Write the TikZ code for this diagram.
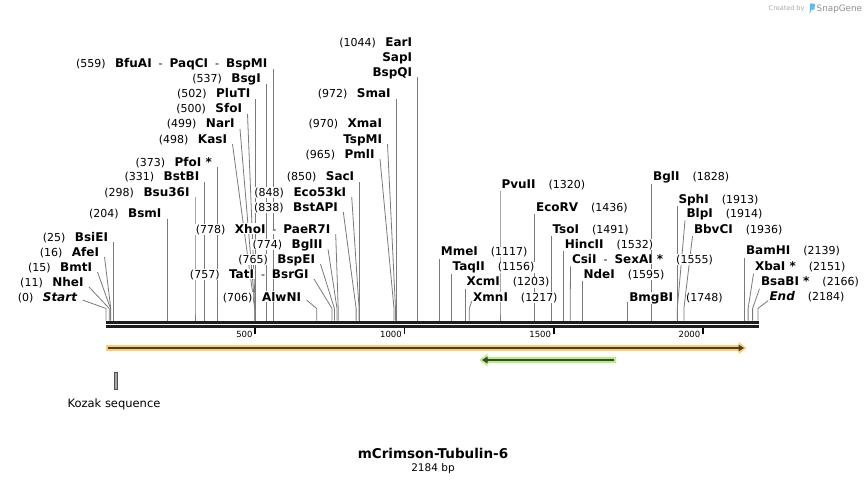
\documentclass[tikz,border=0pt]{standalone}
\usepackage{fontspec}
\setmainfont{DejaVu Sans}
\usetikzlibrary{calc,arrows.meta}
\pgfdeclarelayer{bg}
\pgfdeclarelayer{paper}
\pgfsetlayers{paper,bg,main}
\definecolor{siteline}{HTML}{7A7A7A}
\definecolor{seqcol}{HTML}{1E1E1E}
\definecolor{orhalo}{HTML}{FDCB70}
\definecolor{orcore}{HTML}{4A3F2E}
\definecolor{grhalo}{HTML}{B3F07C}
\definecolor{grcore}{HTML}{3B4634}
\definecolor{kozfill}{HTML}{A6A6A6}
\definecolor{kozdraw}{HTML}{505050}
\definecolor{sgblue}{HTML}{5DB9EE}
\definecolor{sggrey}{HTML}{A8A8A8}
\setlength\fboxsep{0.5pt}
\newcommand\sitenumfont{\fontsize{11}{12}\selectfont}
\newcommand\sitenamefont{\fontsize{12}{13}\selectfont\bfseries}
\newcommand\snum[1]{\colorbox{white}{\sitenumfont(#1)}}
\newcommand\sname[1]{\colorbox{white}{\sitenamefont #1}}
\newcommand\sdash{\hspace{6pt}\colorbox{white}{\sitenumfont-}\hspace{6pt}}
\newcommand\lgap{\hspace{8.5pt}}
\newcommand\rgap{\hspace{12pt}}
% left-hand label: id, site x, label east x, label centre y, text, line start dy
\newcommand\lsite[6]{%
  \coordinate (s#1) at (#2,320.5);
  \node[lab,anchor=base east] (#1) at (#3,#4+4) {#5};
  \begin{pgfonlayer}{bg}
    \draw[site] ($(#1.base east)+(5,#6)$) -- ($(s#1)+(0,-12)$) -- (s#1);
  \end{pgfonlayer}}
% right-hand label: id, site x, label west x, label centre y, text, line start dy
\newcommand\rsite[6]{%
  \coordinate (s#1) at (#2,320.5);
  \node[lab,anchor=base west] (#1) at (#3,#4+4) {#5};
  \begin{pgfonlayer}{bg}
    \draw[site] ($(#1.base west)+(-1,#6)$) -- ($(s#1)+(0,-12)$) -- (s#1);
  \end{pgfonlayer}}
\begin{document}
\begin{tikzpicture}[x=1pt,y=-1pt,
  lab/.style={inner sep=0pt,outer sep=0pt,text=black},
  site/.style={draw=siteline,line width=0.8pt},
  seqline/.style={draw=seqcol,line width=2.8pt},
  tickmark/.style={draw=black,line width=1.6pt},
  ticklab/.style={inner sep=0pt,font=\fontsize{8.5}{10}\selectfont},
  kozak/.style={draw=kozdraw,fill=kozfill,line width=0.8pt,minimum width=3.2pt,minimum height=16.6pt,inner sep=0pt}]
\useasboundingbox (0,0) rectangle (866,484);
\begin{pgfonlayer}{paper}
\fill[white] (0,0) rectangle (866,484);
\end{pgfonlayer}

% SnapGene credit
\node[inner sep=0pt,anchor=base west,text=sggrey,font=\fontsize{6.5}{7}\selectfont] (credit) at (768.5,11) {Created by};
\fill[sgblue] (809.5,14) -- (810.3,3.3) -- (815,4) -- (814.4,9.6) -- (811.6,9.8) -- cycle;
\node[inner sep=0pt,anchor=base west,text=sggrey!85!black,font=\fontsize{8.8}{9}\selectfont] (snapgene) at (816.5,11.5) {SnapGene};

% sequence line
\coordinate (seqL) at (105.5,0);
\coordinate (seqR) at (759,0);
\draw[seqline] (seqL|-0,322.3) -- (seqR|-0,322.3);
\draw[seqline] (seqL|-0,326.4) -- (seqR|-0,326.4);

% ticks
\foreach \bp/\tx in {500/255.25,1000/404.5,1500/553.75,2000/703} {
  \coordinate (t\bp) at (\tx,327.8);
  \draw[tickmark] (t\bp) -- ++(0,6.4);
  \node[ticklab,anchor=base east] (tl\bp) at ($(t\bp)+(-2.5,10)$) {\bp};
}

% ---- left-hand sites
\lsite{Start}{106.0}{77.5}{297}{\snum{0}\lgap\sname{\itshape Start}}{-1}
\lsite{NheI}{109.3}{84}{282}{\snum{11}\lgap\sname{NheI}}{1}
\lsite{BmtI}{110.5}{92.5}{267}{\snum{15}\lgap\sname{BmtI}}{1}
\lsite{AfeI}{110.8}{99.5}{252}{\snum{16}\lgap\sname{AfeI}}{1}
\lsite{BsiEI}{113.5}{108.5}{237}{\snum{25}\lgap\sname{BsiEI}}{1}
\lsite{BsmI}{166.9}{161.9}{213.5}{\snum{204}\lgap\sname{BsmI}}{1}
\lsite{Bsu36I}{195.0}{190.0}{192.3}{\snum{298}\lgap\sname{Bsu36I}}{1}
\lsite{BstBI}{204.8}{199.8}{176.7}{\snum{331}\lgap\sname{BstBI}}{1}
\lsite{PfoI}{217.3}{212.3}{162}{\snum{373}\lgap\sname{PfoI *}}{1}
\lsite{KasI}{254.7}{227.5}{139}{\snum{498}\lgap\sname{KasI}}{1}
\lsite{NarI}{255.0}{235}{124}{\snum{499}\lgap\sname{NarI}}{1}
\lsite{SfoI}{255.3}{242.5}{109}{\snum{500}\lgap\sname{SfoI}}{1}
\lsite{PluTI}{255.8}{250.8}{94}{\snum{502}\lgap\sname{PluTI}}{1}
\lsite{BsgI}{266.3}{261.3}{79}{\snum{537}\lgap\sname{BsgI}}{1}
\lsite{BfuAI}{272.9}{267.9}{64}{\snum{559}\lgap\sname{BfuAI}\sdash\sname{PaqCI}\sdash\sname{BspMI}}{1}

% ---- middle sites
\lsite{AlwNI}{316.7}{301.5}{297}{\snum{706}\lgap\sname{AlwNI}}{-1}
\lsite{TatI}{332.0}{309}{274}{\snum{757}\lgap\sname{TatI}\sdash\sname{BsrGI}}{1}
\lsite{BspEI}{334.4}{315.5}{259}{\snum{765}\lgap\sname{BspEI}}{1}
\lsite{BglII}{337.0}{323}{244}{\snum{774}\lgap\sname{BglII}}{1}
\lsite{XhoI}{338.2}{330.7}{229}{\snum{778}\lgap\sname{XhoI}\sdash\sname{PaeR7I}}{1}
\lsite{BstAPI}{356.1}{338.3}{207}{\snum{838}\lgap\sname{BstAPI}}{1}
\lsite{Eco53kI}{359.1}{346.7}{192}{\snum{848}\lgap\sname{Eco53kI}}{1}
\lsite{SacI}{359.7}{354.7}{176.7}{\snum{850}\lgap\sname{SacI}}{1}
\lsite{PmlI}{394.0}{375}{154}{\snum{965}\lgap\sname{PmlI}}{1}
\node[lab,anchor=base east] (XmaI) at (382.5,128) {\snum{970}\lgap\sname{XmaI}};
\lsite{TspMI}{395.5}{382.5}{139}{\sname{TspMI}}{1}
\lsite{SmaI}{396.1}{391.1}{94}{\snum{972}\lgap\sname{SmaI}}{1}
\node[lab,anchor=base east] (EarI) at (412.6,46.3) {\snum{1044}\lgap\sname{EarI}};
\node[lab,anchor=base east] (SapI) at (412.6,61.3) {\sname{SapI}};
\lsite{BspQI}{417.6}{412.6}{72.3}{\sname{BspQI}}{1}

% ---- right-hand sites
\rsite{MmeI}{439.4}{440.4}{251.5}{\sname{MmeI}\rgap\snum{1117}}{3}
\rsite{TaqII}{451.1}{452.1}{266.7}{\sname{TaqII}\rgap\snum{1156}}{3}
\rsite{XcmI}{465.1}{466.1}{281.7}{\sname{XcmI}\rgap\snum{1203}}{3}
\rsite{XmnI}{469.3}{472.7}{297.3}{\sname{XmnI}\rgap\snum{1217}}{0}
\rsite{PvuII}{500.0}{501}{184}{\sname{PvuII}\rgap\snum{1320}}{3}
\rsite{EcoRV}{534.6}{535.6}{207.3}{\sname{EcoRV}\rgap\snum{1436}}{3}
\rsite{TsoI}{551.1}{552.1}{229}{\sname{TsoI}\rgap\snum{1491}}{3}
\rsite{HincII}{563.3}{564.3}{244}{\sname{HincII}\rgap\snum{1532}}{3}
\rsite{CsiI}{570.2}{571.5}{259.3}{\sname{CsiI}\sdash\sname{SexAI *}\rgap\snum{1555}}{3}
\rsite{NdeI}{582.1}{583.1}{274}{\sname{NdeI}\rgap\snum{1595}}{3}
\rsite{BmgBI}{627.8}{628.8}{297.3}{\sname{BmgBI}\rgap\snum{1748}}{1}
\rsite{BglI}{651.7}{652.7}{176.7}{\sname{BglI}\rgap\snum{1828}}{3}
\rsite{SphI}{677.0}{678}{199}{\sname{SphI}\rgap\snum{1913}}{3}
\rsite{BlpI}{677.3}{686}{213.3}{\sname{BlpI}\rgap\snum{1914}}{3}
\rsite{BbvCI}{683.9}{693.5}{229}{\sname{BbvCI}\rgap\snum{1936}}{3}
\rsite{BamHI}{744.5}{745.5}{250.7}{\sname{BamHI}\rgap\snum{2139}}{3}
\rsite{XbaI}{748.1}{754.5}{266.7}{\sname{XbaI *}\rgap\snum{2151}}{3}
\rsite{BsaBI}{752.6}{760.5}{281.7}{\sname{BsaBI *}\rgap\snum{2166}}{3}
\rsite{End}{757.9}{769}{296.7}{\sname{\itshape End}\rgap\snum{2184}}{0}

% ---- features
\coordinate (orS) at (106,348);
\coordinate (orE) at (744,348);
\draw[line width=6.5pt,draw=orhalo,-{Triangle[length=8pt,width=12pt,fill=orhalo]}] (orS) -- ($(orE)+(2.5,0)$);
\draw[line width=2.2pt,draw=orcore,-{Triangle[length=5.5pt,width=6.5pt,fill=orcore]}] ($(orS)+(2,0)$) -- (orE);

\coordinate (grS) at (616,360);
\coordinate (grE) at (482,360);
\draw[line width=6.5pt,draw=grhalo,-{Triangle[length=8pt,width=12pt,fill=grhalo]}] (grS) -- ($(grE)+(-2.5,0)$);
\draw[line width=2.2pt,draw=grcore,-{Triangle[length=5.5pt,width=6.5pt,fill=grcore]}] ($(grS)+(-2,0)$) -- (grE);

\node[kozak] (koz) at (115.9,381) {};
\node[inner sep=0pt,anchor=base,font=\fontsize{11.5}{12}\selectfont] (kozlab) at (114,407.5) {Kozak sequence};

% ---- title
\node[inner sep=0pt,anchor=base,font=\fontsize{13.5}{14}\selectfont\bfseries] (title) at (433,458) {mCrimson-Tubulin-6};
\node[inner sep=0pt,anchor=base,font=\fontsize{10.5}{12}\selectfont] (len) at (433,471.7) {2184 bp};
\end{tikzpicture}
\end{document}
